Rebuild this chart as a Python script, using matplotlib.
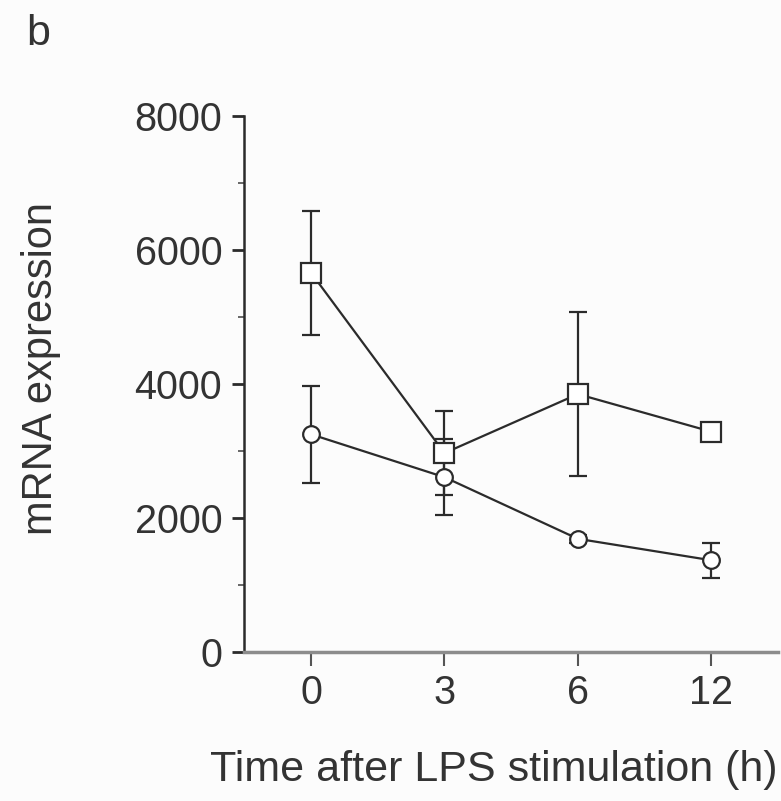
import matplotlib
matplotlib.use("Agg")
import matplotlib.pyplot as plt
import numpy as np

plt.rcParams['font.family'] = ['Liberation Sans', 'DejaVu Sans']

times = ['0', '3', '6', '12']
square_vals = [5660, 2970, 3850, 3290]
square_err = [930, 630, 1220, 90]
circle_vals = [3250, 2610, 1690, 1370]
circle_err = [720, 570, 60, 260]
yticks = [0, 2000, 4000, 6000, 8000]

ink = '#2b2b2b'

fig = plt.figure(figsize=(7.81, 8.01), dpi=100)
fig.patch.set_facecolor('#fcfcfc')
ax = fig.add_axes([0.313, 0.186, 0.683, 0.669])
ax.set_facecolor('#fcfcfc')

x = np.arange(len(times))

for vals, err, mk, ms in [(square_vals, square_err, 's', 14),
                          (circle_vals, circle_err, 'o', 12)]:
    ax.errorbar(x, vals, yerr=err, fmt='none', ecolor=ink, elinewidth=1.6,
                capsize=6.5, capthick=1.6, zorder=2)
    ax.plot(x, vals, color=ink, lw=1.6, marker=mk, markersize=ms,
            markerfacecolor='white', markeredgecolor=ink, markeredgewidth=1.6,
            zorder=3)

ax.set_xlim(-0.5, 3.5)
ax.set_ylim(0, 8000)
ax.set_xticks(x)
ax.set_xticklabels(times)
ax.set_yticks(yticks)
ax.set_yticks([1000, 3000, 5000, 7000], minor=True)

ax.spines['top'].set_visible(False)
ax.spines['right'].set_visible(False)
ax.spines['left'].set_color(ink)
ax.spines['left'].set_linewidth(1.8)
ax.spines['bottom'].set_color('#8c8c8c')
ax.spines['bottom'].set_linewidth(2.5)

ax.tick_params(axis='y', which='major', length=9, width=2.0, color=ink,
               labelsize=28.5, labelcolor='#333333', pad=7)
ax.tick_params(axis='y', which='minor', length=4, width=1.4, color='#666666')
ax.tick_params(axis='x', which='major', length=10, width=1.5, color='#555555',
               labelsize=28.5, labelcolor='#333333', pad=6)

ax.set_ylabel('mRNA expression', fontsize=30, color='#333333')
ax.yaxis.set_label_coords(-0.343, 0.53)
ax.set_xlabel('Time after LPS stimulation (h)', fontsize=31, color='#333333')
ax.xaxis.set_label_coords(0.467, -0.183)

fig.text(0.034, 0.983, 'b', fontsize=31, color='#333333', va='top', ha='left')

fig.savefig('out.png', dpi=100, facecolor=fig.get_facecolor())
